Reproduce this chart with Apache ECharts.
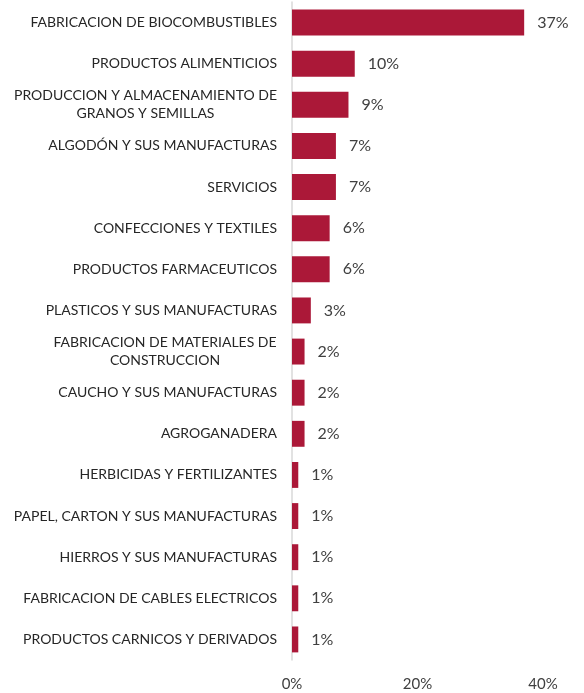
<!DOCTYPE html>
<html>
<head>
<meta charset="utf-8">
<script src="https://cdn.jsdelivr.net/npm/echarts@6/dist/echarts.min.js"></script>
<style>
  html, body { margin: 0; padding: 0; background: #ffffff; }
  #chart { width: 584px; height: 693px; }
</style>
</head>
<body>
<div id="chart"></div>
<script>
// Sectors, top to bottom
const categories = [
  'FABRICACION DE BIOCOMBUSTIBLES',
  'PRODUCTOS ALIMENTICIOS',
  'PRODUCCION Y ALMACENAMIENTO DE\nGRANOS Y SEMILLAS',
  'ALGODÓN Y SUS MANUFACTURAS',
  'SERVICIOS',
  'CONFECCIONES Y TEXTILES',
  'PRODUCTOS FARMACEUTICOS',
  'PLASTICOS Y SUS MANUFACTURAS',
  'FABRICACION DE MATERIALES DE\nCONSTRUCCION',
  'CAUCHO Y SUS MANUFACTURAS',
  'AGROGANADERA',
  'HERBICIDAS Y FERTILIZANTES',
  'PAPEL, CARTON Y SUS MANUFACTURAS',
  'HIERROS Y SUS MANUFACTURAS',
  'FABRICACION DE CABLES ELECTRICOS',
  'PRODUCTOS CARNICOS Y DERIVADOS'
];
// Share of each sector, in percent
const shares = [37, 10, 9, 7, 7, 6, 6, 3, 2, 2, 2, 1, 1, 1, 1, 1];
// Value axis ticks
const tickValues = [0, 20, 40];

const FONT = 'Lato, "Open Sans", sans-serif';
const LABEL_SIZE = 14;
const LINE_H = 18;

// Measure text so multi-line labels can be centred line by line inside a right-aligned block
const ctx = document.createElement('canvas').getContext('2d');
ctx.font = LABEL_SIZE + 'px ' + FONT;
function lineWidth(s) { return Math.ceil(ctx.measureText(s).width); }

// One rich style per multi-line label, as wide as its widest line
const rich = {};
const richKey = {};
categories.forEach((c, i) => {
  const lines = c.split('\n');
  if (lines.length > 1) {
    const key = 'm' + i;
    richKey[c] = key;
    rich[key] = {
      align: 'center',
      width: Math.max.apply(null, lines.map(lineWidth)),
      fontFamily: FONT,
      fontSize: LABEL_SIZE,
      color: '#262626',
      lineHeight: LINE_H
    };
  }
});

const chart = echarts.init(document.getElementById('chart'), null, { renderer: 'canvas' });

chart.setOption({
  animation: false,
  backgroundColor: '#ffffff',
  grid: { left: 292, right: 41, top: 2, bottom: 33, containLabel: false },
  xAxis: {
    type: 'value',
    min: tickValues[0],
    max: tickValues[tickValues.length - 1],
    interval: tickValues[1] - tickValues[0],
    axisLine: { show: false },
    axisTick: { show: false },
    splitLine: { show: false },
    axisLabel: {
      formatter: v => v + '%',
      color: '#404040',
      fontFamily: FONT,
      fontSize: 15,
      margin: 17
    }
  },
  yAxis: {
    type: 'category',
    inverse: true,
    data: categories,
    axisLine: { show: true, lineStyle: { color: '#d9d9d9', width: 1.5 } },
    axisTick: { show: false },
    axisLabel: {
      color: '#262626',
      fontFamily: FONT,
      fontSize: LABEL_SIZE,
      margin: 15,
      lineHeight: LINE_H,
      formatter: function (value) {
        const key = richKey[value];
        if (!key) return value;
        return value.split('\n').map(l => '{' + key + '|' + l + '}').join('\n');
      },
      rich: rich
    }
  },
  series: [{
    type: 'bar',
    data: shares,
    barCategoryGap: '37%',
    itemStyle: { color: '#ab1838' },
    label: {
      show: true,
      position: 'right',
      distance: 13,
      formatter: p => p.value + '%',
      color: '#404040',
      fontFamily: FONT,
      fontSize: 16
    }
  }]
});
</script>
</body>
</html>
